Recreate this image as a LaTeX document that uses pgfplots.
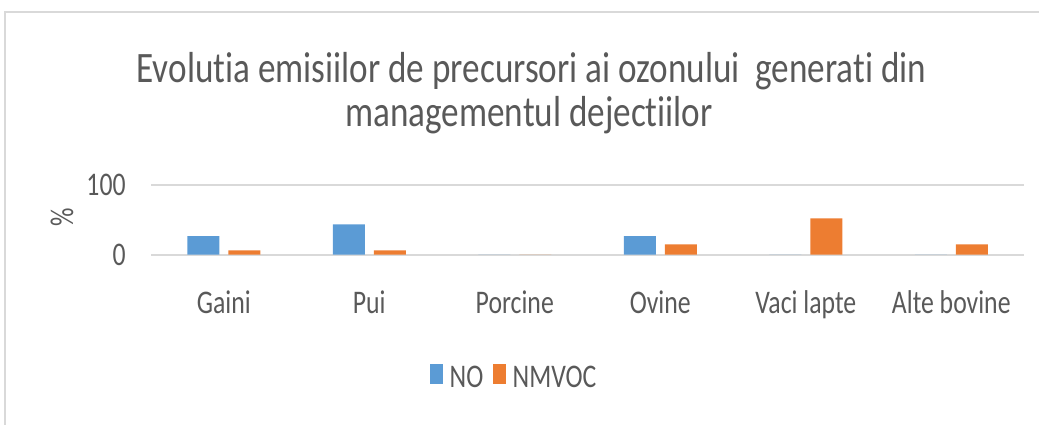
\documentclass[border=0pt]{standalone}
\usepackage{fontspec}
\setmainfont{Carlito}[FakeStretch=0.78, Ligatures={NoCommon,NoContextual}]
\newfontfamily\titlefont{Carlito}[FakeStretch=0.81, Ligatures={NoCommon,NoContextual}]
\usepackage{pgfplots}
\pgfplotsset{compat=1.18}
\definecolor{noblue}{HTML}{5B9BD5}
\definecolor{nmorange}{HTML}{ED7D31}
\definecolor{txt}{HTML}{595959}
\definecolor{gridc}{HTML}{D9D9D9}
\begin{document}
\begin{tikzpicture}[x=1bp,y=1bp]
\useasboundingbox (0,0) rectangle (519.5,212);
\draw[gridc, line width=1bp] (2.5,-2) -- (2.5,206) -- (522,206);
\node[txt, inner sep=0pt, anchor=base, font=\titlefont\fontsize{21.7bp}{26bp}\selectfont] at (265.75,171) {Evolutia emisiilor de precursori ai ozonului\ \ generati din};
\node[txt, inner sep=0pt, anchor=base, font=\titlefont\fontsize{21.7bp}{26bp}\selectfont] at (264.5,149) {managementul dejectiilor};
\begin{axis}[
  at={(75.5bp,84.75bp)}, anchor=south west,
  scale only axis, width=436.5bp, height=34.75bp,
  ymin=0, ymax=100, xmin=-0.5, xmax=5.5,
  ytick={0,100}, xtick={0,1,2,3,4,5},
  xticklabels={Gaini,Pui,Porcine,Ovine,Vaci lapte,Alte bovine},
  axis line style={draw=none}, major tick length=0pt,
  ymajorgrids, grid style={gridc, line width=1bp},
  ybar=4.5bp, bar width=16bp,
  /pgf/number format/assume math mode=true,
  tick label style={font=\fontsize{16.5bp}{20bp}\selectfont, text=txt},
  yticklabel style={anchor=east, inner sep=0pt, xshift=-12.5bp},
  xticklabel style={anchor=base, inner sep=0pt, yshift=-29.4bp},
  ylabel={\%},
  ylabel style={at={(axis description cs:-0.102,0.53)}, anchor=center, rotate=0, font=\fontsize{16.5bp}{20bp}\selectfont, text=txt, inner sep=0pt},
  legend style={at={(axis description cs:0.3196,-1.763)}, anchor=west, draw=none, fill=none, inner sep=0pt,
    font=\fontsize{16.5bp}{20bp}\selectfont, text=txt, legend columns=2,
    /tikz/every even column/.append style={column sep=5bp},
    nodes={inner sep=0pt}},
  legend image code/.code={\fill[#1] (0bp,-3bp) rectangle (6.35bp,7bp);},
  legend cell align=left,
]
\addplot[fill=noblue, draw=none] coordinates {(0,26.5) (1,43.5) (2,0) (3,26.5) (4,0) (5,0)};
\addplot[fill=nmorange, draw=none] coordinates {(0,6) (1,6) (2,0) (3,14.5) (4,52) (5,14.5)};
\legend{\hspace{3.3bp}NO,\hspace{3.3bp}NMVOC}
\end{axis}
\end{tikzpicture}
\end{document}
